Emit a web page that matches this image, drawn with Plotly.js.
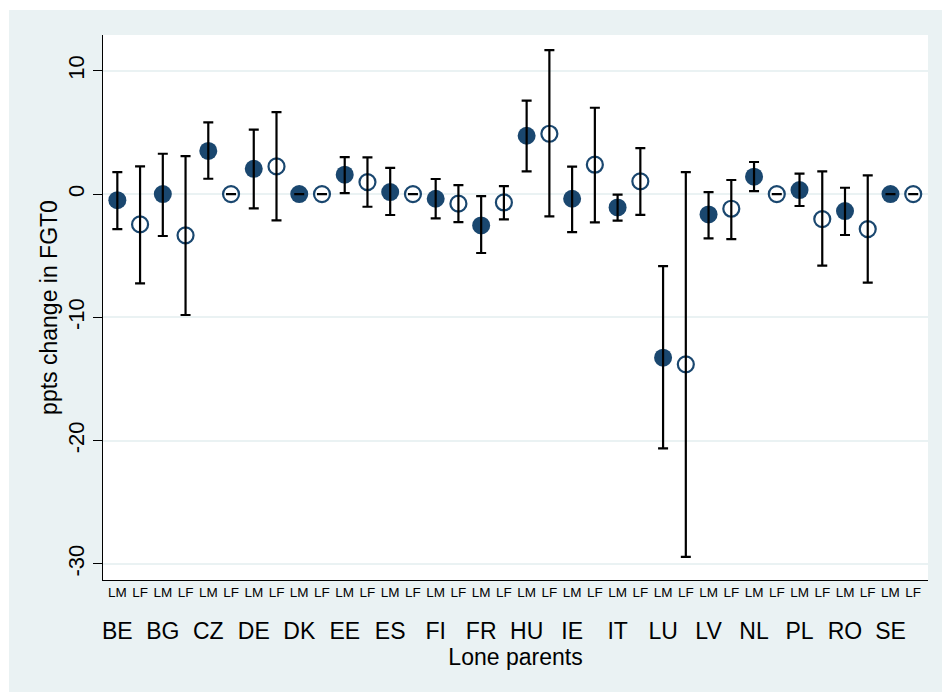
<!DOCTYPE html>
<html>
<head>
<meta charset="utf-8">
<script src="https://cdn.plot.ly/plotly-3.0.1.min.js"></script>
<style>
  html, body { margin: 0; padding: 0; background: #fff; }
</style>
</head>
<body>
<div id="chart" style="width:942px;height:693px;"></div>
<script>
var countries = ['BE','BG','CZ','DE','DK','EE','ES','FI','FR','HU','IE','IT','LU','LV','NL','PL','RO','SE'];
var groupLabels = ['LM', 'LF'];

// LM estimates and 95% CI
var lm   = [-0.5, 0.0, 3.5, 2.05, 0, 1.57, 0.16, -0.38, -2.54, 4.73, -0.38, -1.08, -13.27, -1.65, 1.41, 0.32, -1.38, 0];
var lmLo = [-2.84, -3.4, 1.24, -1.16, 0, 0.08, -1.7, -1.97, -4.78, 1.84, -3.08, -2.16, -20.63, -3.6, 0.24, -0.97, -3.32, 0];
var lmHi = [1.78, 3.27, 5.81, 5.22, 0, 3.0, 2.13, 1.22, -0.16, 7.57, 2.22, -0.05, -5.84, 0.16, 2.6, 1.65, 0.51, 0];

// LF estimates and 95% CI
var lf   = [-2.46, -3.35, 0, 2.24, 0, 0.97, 0, -0.78, -0.68, 4.89, 2.38, 1.03, -13.81, -1.19, 0, -2.03, -2.84, 0];
var lfLo = [-7.24, -9.81, 0, -2.14, 0, -1.03, 0, -2.27, -2.05, -1.81, -2.3, -1.68, -29.42, -3.65, 0, -5.81, -7.19, 0];
var lfHi = [2.24, 3.08, 0, 6.65, 0, 2.97, 0, 0.73, 0.65, 11.68, 7.0, 3.73, 1.78, 1.14, 0, 1.84, 1.51, 0];

var yTicks = [-30, -20, -10, 0, 10];
var yTickText = ['-30', '-20', '-10', '0', '10'];

var navy = '#1a476f';
var bluishgray = '#eaf2f3';

// slot positions: LM then LF for each country
var xLM = countries.map(function (c, i) { return 2 * i + 1; });
var xLF = countries.map(function (c, i) { return 2 * i + 2; });

var tickPos = [], tickTxt = [];
countries.forEach(function (c, i) {
  tickPos.push(xLM[i], xLF[i]);
  tickTxt.push(groupLabels[0], groupLabels[1]);
});

var ciX = xLM.concat(xLF);
var ciY = lm.concat(lf);
var ciHi = lmHi.concat(lfHi);
var ciLo = lmLo.concat(lfLo);

var traceLM = {
  x: xLM, y: lm, type: 'scatter', mode: 'markers', xaxis: 'x', yaxis: 'y',
  marker: {symbol: 'circle', size: 18, color: navy, line: {width: 0}},
  hoverinfo: 'skip'
};
var traceLF = {
  x: xLF, y: lf, type: 'scatter', mode: 'markers', xaxis: 'x', yaxis: 'y',
  marker: {symbol: 'circle-open', size: 16, color: navy, line: {width: 2.2, color: navy}},
  hoverinfo: 'skip'
};
// error bars on top of the markers
var traceCI = {
  x: ciX, y: ciY, type: 'scatter', mode: 'markers', xaxis: 'x2', yaxis: 'y',
  marker: {size: 2, color: 'rgba(0,0,0,0)'},
  error_y: {
    type: 'data', symmetric: false,
    array: ciHi.map(function (h, i) { return h - ciY[i]; }),
    arrayminus: ciLo.map(function (l, i) { return ciY[i] - l; }),
    color: '#000', thickness: 2.2, width: 5
  },
  hoverinfo: 'skip'
};

var xRange = [0.37, 36.65];

var layout = {
  width: 942, height: 693,
  margin: {l: 103, r: 14, t: 35, b: 113, pad: 0},
  paper_bgcolor: '#ffffff',
  plot_bgcolor: '#ffffff',
  showlegend: false,
  font: {family: 'Liberation Sans, Arial, sans-serif', color: '#000'},
  shapes: [
    {type: 'rect', xref: 'paper', yref: 'paper', layer: 'below',
     x0: -0.1139, x1: 1.017, y0: -0.2055, y1: 1.0459,
     fillcolor: bluishgray, line: {width: 0}},
    {type: 'rect', xref: 'paper', yref: 'paper', layer: 'below',
     x0: 0, x1: 1, y0: 0, y1: 1,
     fillcolor: '#ffffff', line: {width: 0}}
  ],
  xaxis: {
    range: xRange, tickmode: 'array', tickvals: tickPos, ticktext: tickTxt,
    tickfont: {size: 13.5}, ticks: '', showgrid: false, zeroline: false,
    showline: true, linecolor: '#000', linewidth: 1, fixedrange: true
  },
  xaxis2: {
    overlaying: 'x', anchor: 'y', side: 'bottom',
    range: xRange, tickmode: 'array', tickvals: xLM, ticktext: countries,
    tickfont: {size: 23}, ticks: '', showgrid: false, zeroline: false,
    showline: false, ticklabelstandoff: 35,
    title: {text: 'Lone parents', font: {size: 23}, standoff: 1}
  },
  yaxis: {
    range: [-31.3, 12.9], tickmode: 'array', tickvals: yTicks, ticktext: yTickText,
    tickangle: -90, tickfont: {size: 22},
    ticks: 'outside', ticklen: 9, tickwidth: 1, tickcolor: '#000',
    showline: true, linecolor: '#000', linewidth: 1,
    showgrid: true, gridcolor: bluishgray, gridwidth: 2, zeroline: false,
    title: {text: 'ppts change in FGT0', font: {size: 23}, standoff: 0}
  }
};

Plotly.newPlot('chart', [traceLM, traceLF, traceCI], layout, {displayModeBar: false, staticPlot: true});
</script>
</body>
</html>
